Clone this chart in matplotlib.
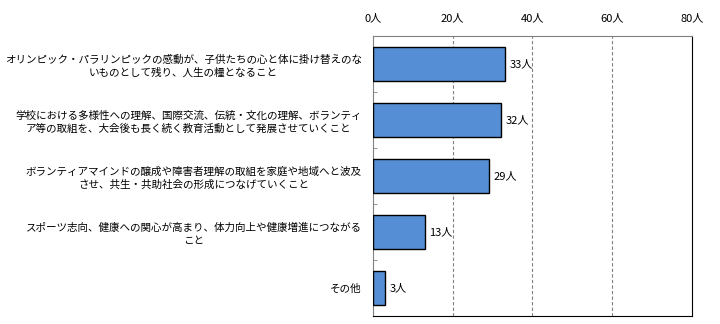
import numpy as np
import matplotlib
matplotlib.use("Agg")
import matplotlib.pyplot as plt

plt.rcParams['font.family'] = ['Noto Sans CJK JP', 'DejaVu Sans']

labels = [
    "オリンピック・パラリンピックの感動が、子供たちの心と体に掛け替えのな\nいものとして残り、人生の糧となること",
    "学校における多様性への理解、国際交流、伝統・文化の理解、ボランティ\nア等の取組を、大会後も長く続く教育活動として発展させていくこと",
    "ボランティアマインドの醸成や障害者理解の取組を家庭や地域へと波及\nさせ、共生・共助社会の形成につなげていくこと",
    "スポーツ志向、健康への関心が高まり、体力向上や健康増進につながる\nこと",
    "その他",
]
counts = [33, 32, 29, 13, 3]
xticks = [0, 20, 40, 60, 80]
xtick_labels = ["0人", "20人", "40人", "60人", "80人"]

fig = plt.figure(figsize=(7.2, 3.24), dpi=100)
ax = fig.add_axes([0.518, 0.025, 0.443, 0.864])

y = np.arange(len(counts))
ax.barh(y, counts, height=0.6, color="#558ED5", edgecolor="black", linewidth=1.0, zorder=3)
for yi, c in zip(y, counts):
    ax.text(c + 1.2, yi, f"{c}人", va="center", ha="left", fontsize=8)

ax.set_xlim(0, 80)
ax.set_ylim(len(counts) - 0.5, -0.5)
ax.xaxis.tick_top()
ax.set_xticks(xticks)
ax.set_xticklabels(xtick_labels, fontsize=8)
ax.tick_params(axis="x", length=0, pad=9)

ax.set_yticks(y)
ax.set_yticklabels(labels, fontsize=7.6, multialignment="center", linespacing=1.35)
ax.set_yticks(np.arange(-0.5, len(counts), 1), minor=True)
ax.tick_params(axis="y", which="major", length=0, pad=8)
ax.tick_params(axis="y", which="minor", length=3, direction="in", color="#808080")

for x in xticks[1:-1]:
    ax.axvline(x, color="#808080", linestyle=(0, (3, 2)), linewidth=0.8, zorder=1)

ax.spines["left"].set_color("#808080")
ax.spines["top"].set_color("#808080")
ax.spines["right"].set_color("black")
ax.spines["bottom"].set_color("black")

fig.savefig("out.png", dpi=100)
